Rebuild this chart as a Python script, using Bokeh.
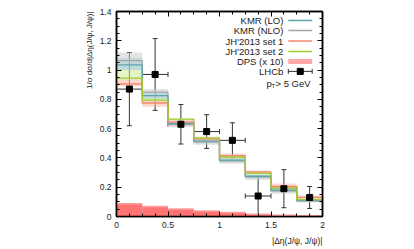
from bokeh.plotting import figure
from bokeh.models import ColumnDataSource, Whisker, Title, LinearAxis, Range1d, FixedTicker
from bokeh.core.properties import value
from bokeh.embed import file_html
from bokeh.resources import INLINE

# ---- data ----
edges = [0.0, 0.25, 0.5, 0.75, 1.0, 1.25, 1.5, 1.75, 2.0]
centers = [0.125, 0.375, 0.625, 0.875, 1.125, 1.375, 1.625, 1.875]

kmr_lo = [1.035, 0.825, 0.635, 0.515, 0.385, 0.275, 0.180, 0.110]
kmr_lo_lo = [1.000, 0.800, 0.620, 0.500, 0.370, 0.260, 0.165, 0.100]
kmr_lo_hi = [1.080, 0.850, 0.650, 0.530, 0.400, 0.285, 0.190, 0.120]

kmr_nlo = [1.065, 0.850, 0.630, 0.510, 0.380, 0.270, 0.175, 0.105]
kmr_nlo_lo = [1.000, 0.800, 0.610, 0.490, 0.360, 0.250, 0.155, 0.095]
kmr_nlo_hi = [1.120, 0.870, 0.650, 0.530, 0.400, 0.285, 0.190, 0.125]

jh1 = [0.905, 0.775, 0.645, 0.530, 0.415, 0.305, 0.205, 0.130]
jh1_lo = [0.890, 0.750, 0.620, 0.515, 0.400, 0.290, 0.190, 0.120]
jh1_hi = [0.935, 0.790, 0.660, 0.545, 0.430, 0.315, 0.225, 0.143]

jh2 = [0.945, 0.795, 0.665, 0.535, 0.405, 0.295, 0.195, 0.115]
jh2_lo = [0.930, 0.785, 0.655, 0.525, 0.395, 0.285, 0.185, 0.105]
jh2_hi = [1.000, 0.810, 0.670, 0.545, 0.415, 0.305, 0.200, 0.125]

dps = [0.087, 0.068, 0.052, 0.038, 0.027, 0.016, 0.009, 0.005]

lhcb = [0.87, 0.97, 0.63, 0.58, 0.52, 0.14, 0.19, 0.13]
lhcb_err = [0.25, 0.245, 0.135, 0.115, 0.12, 0.13, 0.13, 0.075]

yticks = [0, 0.2, 0.4, 0.6, 0.8, 1.0, 1.2, 1.4]
ytick_labels = {0: "0", 0.2: "0.2", 0.4: "0.4", 0.6: "0.6", 0.8: "0.8", 1.0: "1", 1.2: "1.2", 1.4: "1.4"}
xticks = [0, 0.5, 1.0, 1.5, 2.0]
xtick_labels = {0: "0", 0.5: "0.5", 1.0: "1", 1.5: "1.5", 2.0: "2"}

legend_names = ["KMR (LO)", "KMR (NLO)", "JH'2013 set 1", "JH'2013 set 2", "DPS (x 10)", "LHCb"]
x_title = "|Δη(J/ψ, J/ψ)|"
y_title = "1/σ dσ/d|Δη(J/ψ, J/ψ)|"

# ---- styles ----
FONT = "Liberation Sans"
C_LO, C_NLO, C_JH1, C_JH2 = "#5ba6ad", "#a6a6a6", "#f28a6c", "#9acd32"
B_LO, B_NLO, B_JH1, B_JH2 = "#9ccdd2", "#cccccc", "#f9b8a8", "#cfeb99"
C_DPS = "#ff6464"

p = figure(width=414, height=249, output_backend="svg", toolbar_location=None,
           x_range=Range1d(0, 2), y_range=Range1d(0, 1.4),
           min_border_left=116, min_border_right=92, min_border_top=11, min_border_bottom=33)
p.grid.visible = False
p.outline_line_color = "black"
p.outline_line_width = 1.5
p.background_fill_color = "white"
p.border_fill_color = "white"

def style_axis(ax, labels=True):
    ax.axis_line_width = 1.5
    ax.major_tick_in = 5
    ax.major_tick_out = 0
    ax.minor_tick_in = 3
    ax.minor_tick_out = 0
    ax.major_tick_line_width = 1
    ax.minor_tick_line_width = 1
    ax.major_label_text_font = FONT
    ax.major_label_text_font_size = "8.5px"
    ax.major_label_text_color = "#222222" if labels else None

lo = edges[:-1]
hi = edges[1:]
# bands
for blo, bhi, col, alpha in [(kmr_nlo_lo, kmr_nlo_hi, B_NLO, 0.55), (kmr_lo_lo, kmr_lo_hi, B_LO, 0.5),
                             (jh2_lo, jh2_hi, B_JH2, 0.55), (jh1_lo, jh1_hi, B_JH1, 0.55)]:
    p.quad(left=lo, right=hi, bottom=blo, top=bhi, fill_color=col, fill_alpha=alpha, line_color=None)

# central step lines
for vals, col in [(kmr_nlo, C_NLO), (kmr_lo, C_LO), (jh1, C_JH1), (jh2, C_JH2)]:
    p.step(x=edges, y=vals + [vals[-1]], mode="after", line_color=col, line_width=1.3)

# DPS
p.quad(left=lo, right=hi, bottom=0, top=dps, fill_color=C_DPS, fill_alpha=0.9, line_color=None)
p.segment(x0=lo, x1=hi, y0=dps, y1=dps, line_color="#ffa0a0", line_width=1.5)

# LHCb
src = ColumnDataSource(dict(x=centers, y=lhcb,
                            yl=[v - e for v, e in zip(lhcb, lhcb_err)],
                            yh=[v + e for v, e in zip(lhcb, lhcb_err)],
                            xl=[c - 0.125 for c in centers], xh=[c + 0.125 for c in centers]))
wv = Whisker(source=src, base="x", lower="yl", upper="yh", dimension="height",
             line_color="#333333", line_width=1)
wv.upper_head.size = 5; wv.lower_head.size = 5
wv.upper_head.line_color = "#333333"; wv.lower_head.line_color = "#333333"
wh = Whisker(source=src, base="y", lower="xl", upper="xh", dimension="width",
             line_color="#333333", line_width=1)
wh.upper_head.size = 5; wh.lower_head.size = 5
wh.upper_head.line_color = "#333333"; wh.lower_head.line_color = "#333333"
p.add_layout(wv); p.add_layout(wh)
p.scatter(x="x", y="y", source=src, marker="square", size=6, fill_color="black", line_color="black")

# axes
p.yaxis.ticker = FixedTicker(ticks=yticks, minor_ticks=[i * 0.05 for i in range(29)])
p.yaxis.major_label_overrides = ytick_labels
p.xaxis.ticker = FixedTicker(ticks=xticks, minor_ticks=[i * 0.125 for i in range(17)])
p.xaxis.major_label_overrides = xtick_labels
style_axis(p.xaxis[0]); style_axis(p.yaxis[0])
p.yaxis.major_label_standoff = 5
p.xaxis.major_label_standoff = 5

top_ax = LinearAxis(ticker=FixedTicker(ticks=xticks, minor_ticks=[i * 0.125 for i in range(17)]))
right_ax = LinearAxis(ticker=FixedTicker(ticks=yticks, minor_ticks=[i * 0.05 for i in range(29)]))
style_axis(top_ax, labels=False); style_axis(right_ax, labels=False)
p.add_layout(top_ax, "above"); p.add_layout(right_ax, "right")

p.add_layout(Title(text=x_title, align="right", text_font=FONT, text_font_size="8.5px",
                   text_font_style="normal", text_color="#222222", standoff=6), "below")
p.add_layout(Title(text=y_title, align="right", text_font=FONT, text_font_size="8px",
                   text_font_style="normal", text_color="#222222", standoff=6), "left")

# legend (drawn manually: text left of sample)
row_y = [1.339, 1.270, 1.198, 1.127, 1.059, 0.991]
tx, lx0, lx1 = 1.62, 1.668, 1.90
p.text(x=[tx] * 6, y=row_y, text=legend_names, text_align="right", text_baseline="middle",
       text_font=value(FONT), text_font_size="9.5px", text_color="#222222")
for yv, col in zip(row_y[:4], [C_LO, C_NLO, C_JH1, C_JH2]):
    p.line(x=[lx0, lx1], y=[yv, yv], line_color=col, line_width=1.5)
p.line(x=[lx0, lx1], y=[row_y[4], row_y[4]], line_color="#ffa8a8", line_width=5)
p.line(x=[lx0, lx1], y=[row_y[5], row_y[5]], line_color="#333333", line_width=1)
p.segment(x0=[lx0, lx1], x1=[lx0, lx1], y0=[row_y[5] - 0.017] * 2, y1=[row_y[5] + 0.017] * 2,
          line_color="#333333", line_width=1)
p.scatter(x=[(lx0 + lx1) / 2], y=[row_y[5]], marker="square", size=6, fill_color="black", line_color="black")

py = 0.906
p.text(x=[1.456], y=[py], text=["p"], text_align="left", text_baseline="middle",
       text_font=value(FONT), text_font_size="9.5px", text_color="#222222")
p.text(x=[1.456], y=[py], text=["T"], x_offset=5, y_offset=2, text_align="left", text_baseline="middle",
       text_font=value(FONT), text_font_size="6px", text_color="#222222")
p.text(x=[1.456], y=[py], text=[" > 5 GeV"], x_offset=9, text_align="left", text_baseline="middle",
       text_font=value(FONT), text_font_size="9.5px", text_color="#222222")

open("out.html", "w").write(file_html(p, INLINE))
